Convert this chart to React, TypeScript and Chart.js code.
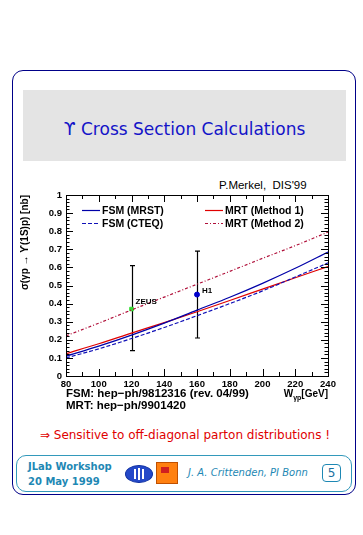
import React, { useEffect, useRef } from "react";
import { Chart, registerables } from "chart.js";

Chart.register(...registerables);

// ---- data ----
const wGeV = [80, 100, 120, 140, 160, 180, 200, 220, 240];
const fsmMrst = [0.11, 0.165, 0.226, 0.292, 0.364, 0.435, 0.512, 0.595, 0.685];
const fsmCteq = [0.1, 0.15, 0.207, 0.268, 0.333, 0.4, 0.47, 0.547, 0.625];
const mrtMethod1 = [0.123, 0.178, 0.237, 0.295, 0.355, 0.417, 0.48, 0.543, 0.605];
const mrtMethod2 = [0.222, 0.292, 0.365, 0.436, 0.507, 0.578, 0.65, 0.72, 0.795];
const seriesLabels = ["FSM (MRST)", "FSM (CTEQ)", "MRT (Method 1)", "MRT (Method 2)"];

const zeusW = [120];
const zeusSigma = [0.37];
const zeusLow = [0.14];
const zeusHigh = [0.61];
const h1W = [160];
const h1Sigma = [0.45];
const h1Low = [0.21];
const h1High = [0.69];
const expLabels = ["ZEUS", "H1"];

const xMin = 80;
const xMax = 240;
const xStep = 20;
const yMin = 0;
const yMax = 1;
const yStep = 0.1;

const LEG_FONT = "bold 10.5px 'Liberation Sans', Arial, sans-serif";

function pts(xs: number[], ys: number[]) {
  return xs.map((x, i) => ({ x, y: ys[i] }));
}

const rootPlugin = {
  id: "rootStyle",
  beforeDatasetsDraw(chart: any) {
    const ctx = chart.ctx;
    const xs = chart.scales.x;
    const ys = chart.scales.y;
    ctx.save();
    ctx.strokeStyle = "#000";
    ctx.lineWidth = 1.2;
    chart.data.datasets.forEach((ds: any) => {
      if (!ds.errLow) return;
      ds.data.forEach((p: any, i: number) => {
        const px = Math.round(xs.getPixelForValue(p.x)) + 0.5;
        const yl = ys.getPixelForValue(ds.errLow[i]);
        const yh = ys.getPixelForValue(ds.errHigh[i]);
        ctx.beginPath();
        ctx.moveTo(px, yl);
        ctx.lineTo(px, yh);
        ctx.moveTo(px - 2.5, yl);
        ctx.lineTo(px + 2.5, yl);
        ctx.moveTo(px - 2.5, yh);
        ctx.lineTo(px + 2.5, yh);
        ctx.stroke();
      });
    });
    ctx.restore();
  },
  afterDraw(chart: any) {
    const ctx = chart.ctx;
    const a = chart.chartArea;
    const xs = chart.scales.x;
    const ys = chart.scales.y;
    ctx.save();
    // frame
    ctx.strokeStyle = "#000";
    ctx.lineWidth = 1;
    ctx.strokeRect(Math.round(a.left) + 0.5, Math.round(a.top) + 0.5, Math.round(a.right - a.left), Math.round(a.bottom - a.top));
    // y ticks
    ctx.beginPath();
    for (let k = 0; k <= 50; k++) {
      const v = yMin + (k * (yMax - yMin)) / 50;
      const py = Math.round(ys.getPixelForValue(v)) + 0.5;
      const len = k % 5 === 0 ? 7 : 3.5;
      ctx.moveTo(a.left, py);
      ctx.lineTo(a.left + len, py);
      ctx.moveTo(a.right, py);
      ctx.lineTo(a.right - len, py);
    }
    // x ticks
    for (let k = 0; k <= 16; k++) {
      const v = xMin + (k * (xMax - xMin)) / 16;
      const px = Math.round(xs.getPixelForValue(v)) + 0.5;
      const len = k % 2 === 0 ? 7 : 4;
      ctx.moveTo(px, a.bottom);
      ctx.lineTo(px, a.bottom - len);
      ctx.moveTo(px, a.top);
      ctx.lineTo(px, a.top + len);
    }
    ctx.stroke();

    // legend
    const rows = [
      { i: 0, col: 0, row: 0 },
      { i: 1, col: 0, row: 1 },
      { i: 2, col: 1, row: 0 },
      { i: 3, col: 1, row: 1 },
    ];
    ctx.font = LEG_FONT;
    ctx.textBaseline = "middle";
    ctx.textAlign = "left";
    rows.forEach((r) => {
      const ds = chart.data.datasets[r.i];
      const x0 = a.left + 16 + r.col * 123;
      const y0 = a.top + 15 + r.row * 13;
      ctx.strokeStyle = ds.borderColor;
      ctx.lineWidth = 1.2;
      ctx.setLineDash(ds.borderDash || []);
      ctx.beginPath();
      ctx.moveTo(x0, y0 + 0.5);
      ctx.lineTo(x0 + 18, y0 + 0.5);
      ctx.stroke();
      ctx.setLineDash([]);
      ctx.fillStyle = "#000";
      ctx.fillText(ds.label, x0 + 20, y0 + 1);
    });

    // experiment labels
    ctx.font = "bold 8px 'Liberation Sans', Arial, sans-serif";
    ctx.fillStyle = "#000";
    chart.data.datasets.forEach((ds: any) => {
      if (!ds.errLow) return;
      ds.data.forEach((p: any) => {
        const px = xs.getPixelForValue(p.x);
        const py = ys.getPixelForValue(p.y);
        ctx.fillText(ds.label, px + ds.labelDx, py + ds.labelDy);
      });
    });

    // x title  W_γp [GeV]
    ctx.textBaseline = "alphabetic";
    const big = "bold 10px 'Liberation Sans', Arial, sans-serif";
    const small = "bold 7px 'Liberation Sans', Arial, sans-serif";
    ctx.font = big;
    const wW = ctx.measureText("W").width;
    const wG = ctx.measureText("[GeV]").width;
    ctx.font = small;
    const wS = ctx.measureText("γp").width;
    const right = a.right;
    const baseY = a.bottom + 21;
    let x = right - (wW + wS + wG);
    ctx.font = big;
    ctx.fillText("W", x, baseY);
    x += wW;
    ctx.font = small;
    ctx.fillText("γp", x, baseY + 2.5);
    x += wS;
    ctx.font = big;
    ctx.fillText("[GeV]", x, baseY);
    ctx.restore();
  },
};

function PlotCanvas() {
  const ref = useRef<HTMLCanvasElement | null>(null);
  useEffect(() => {
    if (!ref.current) return;
    const chart = new Chart(ref.current, {
      type: "line",
      data: {
        datasets: [
          { label: seriesLabels[0], data: pts(wGeV, fsmMrst), borderColor: "#0000a8", borderWidth: 1.2, pointRadius: 0, cubicInterpolationMode: "monotone" },
          { label: seriesLabels[1], data: pts(wGeV, fsmCteq), borderColor: "#1010b8", borderWidth: 1.2, borderDash: [4, 2], pointRadius: 0, cubicInterpolationMode: "monotone" },
          { label: seriesLabels[2], data: pts(wGeV, mrtMethod1), borderColor: "#e00000", borderWidth: 1.2, pointRadius: 0, cubicInterpolationMode: "monotone" },
          { label: seriesLabels[3], data: pts(wGeV, mrtMethod2), borderColor: "#b0103a", borderWidth: 1.2, borderDash: [3, 2, 1, 2], pointRadius: 0, cubicInterpolationMode: "monotone" },
          { label: expLabels[0], data: pts(zeusW, zeusSigma), showLine: false, pointStyle: "rect", pointRadius: 2.5, pointBackgroundColor: "#33dd33", pointBorderColor: "#33dd33", errLow: zeusLow, errHigh: zeusHigh, labelDx: 4, labelDy: -7 } as any,
          { label: expLabels[1], data: pts(h1W, h1Sigma), showLine: false, pointStyle: "circle", pointRadius: 2.5, pointBackgroundColor: "#0000cc", pointBorderColor: "#0000cc", errLow: h1Low, errHigh: h1High, labelDx: 5, labelDy: -4 } as any,
        ],
      },
      options: {
        animation: false,
        responsive: false,
        maintainAspectRatio: false,
        layout: { padding: { left: 0, top: 17, right: 27, bottom: 0 } },
        plugins: { legend: { display: false }, tooltip: { enabled: false }, title: { display: false } },
        scales: {
          x: {
            type: "linear",
            min: xMin,
            max: xMax,
            grid: { display: false, drawTicks: false },
            border: { display: false },
            ticks: { stepSize: xStep, autoSkip: false, color: "#000", font: { family: "'Liberation Sans', Arial, sans-serif", size: 9.5, weight: "bold" }, padding: 3, maxRotation: 0 },
            afterFit: (s: any) => { s.height = 42; },
          },
          y: {
            type: "linear",
            min: yMin,
            max: yMax,
            grid: { display: false, drawTicks: false },
            border: { display: false },
            ticks: {
              stepSize: yStep,
              autoSkip: false,
              color: "#000",
              font: { family: "'Liberation Sans', Arial, sans-serif", size: 9.5, weight: "bold" },
              padding: 4,
              callback: (v: any) => String(Math.round(Number(v) * 10) / 10),
            },
            title: {
              display: true,
              text: "σ(γp → ϒ(1S)p) [nb]",
              align: "end",
              color: "#000",
              font: { family: "'Liberation Sans', Arial, sans-serif", size: 10, weight: "bold" },
              padding: { top: 4, bottom: 0 },
            },
            afterFit: (s: any) => { s.width = 51; },
          },
        },
      } as any,
      plugins: [rootPlugin],
    });
    return () => chart.destroy();
  }, []);
  return <canvas ref={ref} width={340} height={240} style={{ position: "absolute", left: 15, top: 178, width: 340, height: 240 }} />;
}

export default function App() {
  const abs = (s: React.CSSProperties): React.CSSProperties => ({ position: "absolute", ...s });
  return (
    <div style={abs({ left: 0, top: 0, width: 363, height: 535, background: "#fff", overflow: "hidden", fontFamily: "'DejaVu Sans', Verdana, sans-serif" })}>
      <div style={abs({ left: 12, top: 70, width: 342, height: 423, border: "1.5px solid #000088", borderRadius: 11 })} />
      <div style={abs({ left: 23, top: 90, width: 323, height: 71, background: "#e4e4e4" })} />
      <div style={abs({ left: 23, top: 117, width: 323, textAlign: "center", fontSize: 17, lineHeight: "24px", color: "#1414c8", whiteSpace: "nowrap" })}>
        ϒ Cross Section Calculations
      </div>
      <div style={abs({ left: 219, top: 178, fontFamily: "'Liberation Sans', Arial, sans-serif", fontSize: 11.5, lineHeight: "14px", color: "#000", whiteSpace: "nowrap" })}>
        P.Merkel,&nbsp; DIS'99
      </div>
      <PlotCanvas />
      <div style={abs({ left: 66, top: 387, fontFamily: "'Liberation Sans', Arial, sans-serif", fontWeight: "bold", fontSize: 11.5, lineHeight: "12px", color: "#000", whiteSpace: "nowrap" })}>
        FSM: hep−ph/9812316 (rev. 04/99)
        <br />
        MRT: hep−ph/9901420
      </div>
      <div style={abs({ left: 0, top: 427, width: 370, textAlign: "center", fontSize: 12, lineHeight: "16px", color: "#e00000", whiteSpace: "nowrap" })}>
        ⇒ Sensitive to off-diagonal parton distributions !
      </div>
      <div style={abs({ left: 16, top: 455, width: 334, height: 35, border: "1.5px solid #3399bb", borderRadius: 10 })} />
      <div style={abs({ left: 28, top: 459, fontSize: 10, lineHeight: "15px", fontWeight: "bold", color: "#1e88b4", whiteSpace: "nowrap" })}>
        JLab Workshop
        <br />
        20 May 1999
      </div>
      <div style={abs({ left: 125, top: 465, width: 26, height: 16, borderRadius: "50%", background: "#2448c8", border: "1px solid #1030a0" })}>
        <div style={abs({ left: 8, top: 3, width: 2, height: 10, background: "#fff" })} />
        <div style={abs({ left: 12, top: 2, width: 2, height: 12, background: "#fff" })} />
        <div style={abs({ left: 16, top: 3, width: 2, height: 10, background: "#fff" })} />
      </div>
      <div style={abs({ left: 156, top: 462, width: 20, height: 20, background: "#ff8010", border: "1px solid #c05000" })}>
        <div style={abs({ left: 4, top: 4, width: 8, height: 6, background: "#d02020" })} />
      </div>
      <div style={abs({ left: 188, top: 466, fontSize: 10, lineHeight: "14px", fontStyle: "italic", color: "#1e88b4", whiteSpace: "nowrap" })}>
        J. A. Crittenden, PI Bonn
      </div>
      <div style={abs({ left: 322, top: 464, width: 17, height: 16, border: "1px solid #1e88b4", borderRadius: 4, textAlign: "center", fontSize: 12, lineHeight: "16px", color: "#1a70a0" })}>
        5
      </div>
    </div>
  );
}
